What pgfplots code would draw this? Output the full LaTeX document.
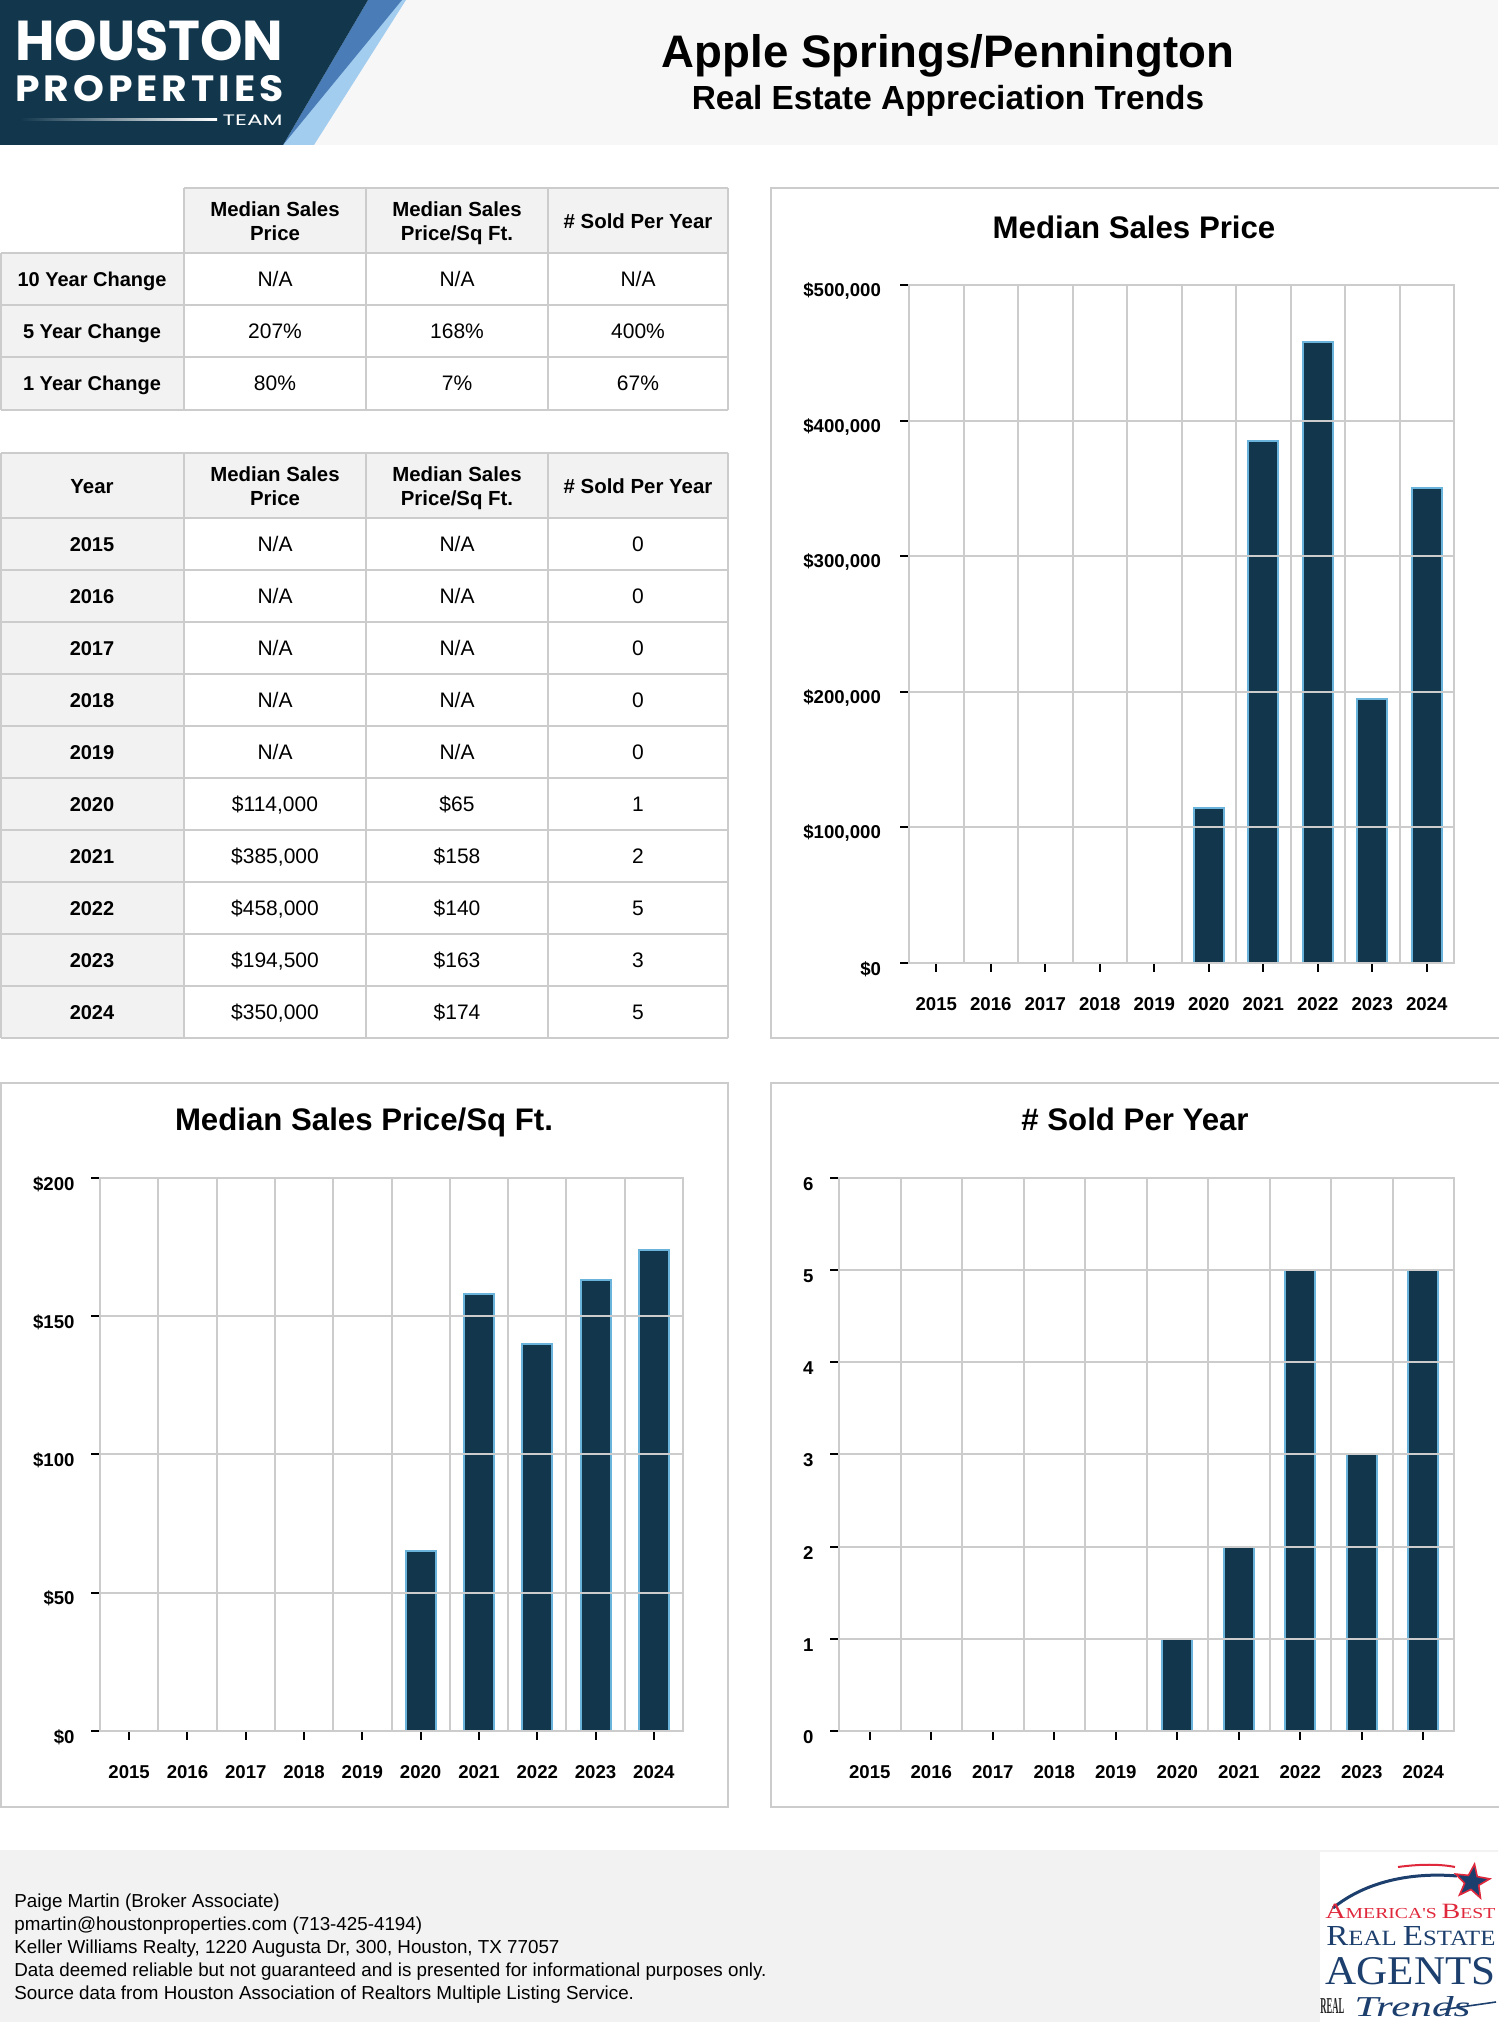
\documentclass[border=0pt]{standalone}
\usepackage{fontspec}
\setmainfont{Liberation Sans}
\newfontfamily\logofont{Poppins}
\newfontfamily\logospaced[LetterSpace=10]{Poppins}
\newfontfamily\seriflogo{Liberation Serif}
\usepackage{graphicx}
\usepackage{pgfplots}
\pgfplotsset{compat=1.18}
\usetikzlibrary{shapes.geometric}

\definecolor{barnavy}{HTML}{12374D}
\definecolor{baredge}{HTML}{6AB4DC}
\definecolor{gridgray}{HTML}{CCCCCC}
\definecolor{headbg}{HTML}{F7F7F7}
\definecolor{cellgray}{HTML}{F2F2F2}
\definecolor{footbg}{HTML}{F2F2F2}
\definecolor{logodark}{HTML}{12374D}
\definecolor{logomid}{HTML}{4A7DB8}
\definecolor{logolight}{HTML}{A3CDEF}
\definecolor{logored}{HTML}{E0283C}
\definecolor{logonavy}{HTML}{1C3F6E}

\newcommand\NA{N/A}

\pgfplotsset{
  trendbar/.style={
    scale only axis, axis on top,
    ybar, bar width=15pt,
    xmin=-0.5, xmax=9.5, ymin=0,
    scaled y ticks=false,
    xtick={0,...,9},
    xticklabels={2015,2016,2017,2018,2019,2020,2021,2022,2023,2024},
    minor xtick={-0.5,0.5,...,9.5},
    xminorgrids=true, ymajorgrids=true, xmajorgrids=false,
    grid style={draw=gridgray, line width=1pt},
    minor grid style={draw=gridgray, line width=1pt},
    axis line style={draw=gridgray, line width=1pt},
    major tick style={black, line width=1pt},
    minor tick length=0pt,
    major tick length=4.5pt,
    tick align=outside,
    tick pos=left,
    every tick label/.append style={font=\fontsize{9.3}{11}\selectfont\bfseries},
    xticklabel shift=9pt,
    yticklabel style={yshift=-3pt},
  },
  bars/.style={fill=barnavy, draw=baredge, line width=1pt},
}

\tikzset{
  hd/.style={font=\fontsize{10.2}{12}\selectfont\bfseries, text height=7.3pt, text depth=0pt, inner sep=0pt},
  rl/.style={font=\fontsize{10}{12}\selectfont\bfseries, text height=7.2pt, text depth=0pt, inner sep=0pt},
  dc/.style={font=\fontsize{10.5}{12}\selectfont, text height=7.5pt, text depth=0pt, inner sep=0pt},
  ttl/.style={font=\fontsize{15.6}{18}\selectfont\bfseries, text height=11.2pt, text depth=0pt, inner sep=0pt},
  ft/.style={font=\fontsize{9.4}{11}\selectfont, anchor=base west, inner sep=0pt},
}

\begin{document}
\begin{tikzpicture}[x=0.5pt,y=0.5pt]
\useasboundingbox (0,0) rectangle (1498,2022);
\fill[white] (0,0) rectangle (1498,2022);

% ---- header band and logo
\fill[headbg] (0,1877) rectangle (1498,2022);
\fill[logolight] (395,2022) -- (406,2022) -- (314,1877) -- (281,1877) -- cycle;
\fill[logomid] (368,2022) -- (402,2022) -- (283,1877) -- cycle;
\fill[logodark] (0,2022) -- (368,2022) -- (283,1877) -- (0,1877) -- cycle;
\node[anchor=base west, inner sep=0pt, text=white] at (15,1961)
  {\resizebox{134pt}{20pt}{\logofont\bfseries HOUSTON}};
\node[anchor=base west, inner sep=0pt, text=white] at (15,1920)
  {\resizebox{134pt}{13pt}{\logospaced\bfseries PROPERTIES}};
\node[anchor=base east, inner sep=0pt, text=white] at (283,1896)
  {\resizebox{30pt}{5.3pt}{\logofont TEAM}};
\shade[left color=logodark, right color=white] (20,1901) rectangle (217,1903);

\node[font=\fontsize{22.8}{26}\selectfont\bfseries, inner sep=0pt] at (948,1966) {Apple Springs/Pennington};
\node[font=\fontsize{16.7}{19}\selectfont\bfseries, inner sep=0pt] at (948,1921) {Real Estate Appreciation Trends};

% ---- table 1: changes
\fill[cellgray] (184,1769) rectangle (728,1834);
\fill[cellgray] (1,1612) rectangle (184,1769);
\begin{scope}[gridgray, line width=1pt]
  \draw (184,1834) -- (728,1834);
  \foreach \y in {1769,1717,1665,1612} \draw (1,\y) -- (728,\y);
  \draw (1,1769) -- (1,1612);
  \foreach \x in {184,366,548,728} \draw (\x,1834) -- (\x,1612);
\end{scope}
\node[hd] at (275,1813) {Median Sales};
\node[hd] at (275,1789) {Price};
\node[hd] at (457,1813) {Median Sales};
\node[hd] at (457,1789) {Price/Sq Ft.};
\node[hd] at (638,1801) {\# Sold Per Year};
\foreach \lab/\a/\b/\c [count=\i from 0] in
  {10 Year Change/\NA/\NA/\NA, 5 Year Change/207\%/168\%/400\%, 1 Year Change/80\%/7\%/67\%}{
  \node[rl] at (92,{1743-52*\i}) {\lab};
  \node[dc] at (275,{1743-52*\i}) {\a};
  \node[dc] at (457,{1743-52*\i}) {\b};
  \node[dc] at (638,{1743-52*\i}) {\c};
}

% ---- table 2: by year
\fill[cellgray] (1,1504) rectangle (728,1569);
\fill[cellgray] (1,984) rectangle (184,1504);
\begin{scope}[gridgray, line width=1pt]
  \draw (1,1569) -- (728,1569);
  \foreach \y in {1504,1452,...,984} \draw (1,\y) -- (728,\y);
  \foreach \x in {1,184,366,548,728} \draw (\x,1569) -- (\x,984);
\end{scope}
\node[hd] at (92,1536) {Year};
\node[hd] at (275,1548) {Median Sales};
\node[hd] at (275,1524) {Price};
\node[hd] at (457,1548) {Median Sales};
\node[hd] at (457,1524) {Price/Sq Ft.};
\node[hd] at (638,1536) {\# Sold Per Year};
\foreach \yr/\p/\s/\n [count=\i from 0] in
  {2015/\NA/\NA/0, 2016/\NA/\NA/0, 2017/\NA/\NA/0, 2018/\NA/\NA/0, 2019/\NA/\NA/0,
   2020/{\$114,000}/\$65/1, 2021/{\$385,000}/\$158/2, 2022/{\$458,000}/\$140/5,
   2023/{\$194,500}/\$163/3, 2024/{\$350,000}/\$174/5}{
  \node[rl] at (92,{1478-52*\i}) {\yr};
  \node[dc] at (275,{1478-52*\i}) {\p};
  \node[dc] at (457,{1478-52*\i}) {\s};
  \node[dc] at (638,{1478-52*\i}) {\n};
}

% ---- chart frames and titles
\begin{scope}[gridgray, line width=1pt]
  \draw (771,984) rectangle (1502,1834);
  \draw (1,215) rectangle (728,939);
  \draw (771,215) rectangle (1502,939);
\end{scope}
\node[ttl] at (1134,1795) {Median Sales Price};
\node[ttl] at (364,903) {Median Sales Price/Sq Ft.};
\node[ttl] at (1135,903) {\# Sold Per Year};

% ---- chart 1: median sales price
\begin{axis}[trendbar, at={(454.5pt,529.5pt)}, anchor=south west,
    width=272.5pt, height=339pt, ymax=500000,
    ytick={0,100000,200000,300000,400000,500000},
    yticklabels={\$0,{\$100,000},{\$200,000},{\$300,000},{\$400,000},{\$500,000}},
    yticklabel shift=6pt]
  \addplot[bars] coordinates {(5,114000) (6,385000) (7,458000) (8,194500) (9,350000)};
\end{axis}

% ---- chart 2: median price per sq ft
\begin{axis}[trendbar, at={(50pt,145.5pt)}, anchor=south west,
    width=291.5pt, height=276.5pt, ymax=200,
    ytick={0,50,100,150,200},
    yticklabels={\$0,\$50,\$100,\$150,\$200},
    yticklabel shift=4.7pt]
  \addplot[bars] coordinates {(5,65) (6,158) (7,140) (8,163) (9,174)};
\end{axis}

% ---- chart 3: number sold
\begin{axis}[trendbar, at={(419.5pt,145.5pt)}, anchor=south west,
    width=307.5pt, height=276.5pt, ymax=6,
    ytick={0,1,2,3,4,5,6},
    yticklabels={0,1,2,3,4,5,6},
    yticklabel shift=4.7pt]
  \addplot[bars] coordinates {(5,1) (6,2) (7,5) (8,3) (9,5)};
\end{axis}

% ---- footer
\fill[footbg] (0,0) rectangle (1498,172);
\node[ft] at (14,114) {Paige Martin (Broker Associate)};
\node[ft] at (14,91) {pmartin@houstonproperties.com (713-425-4194)};
\node[ft] at (14,68) {Keller Williams Realty, 1220 Augusta Dr, 300, Houston, TX 77057};
\node[ft] at (14,45) {Data deemed reliable but not guaranteed and is presented for informational purposes only.};
\node[ft] at (14,22) {Source data from Houston Association of Realtors Multiple Listing Service.};

\fill[white] (1320,0) rectangle (1498,170);
\draw[logonavy, line width=1.5pt] (1333,114) .. controls (1365,140) and (1410,150) .. (1457,146);
\draw[logored, line width=1pt] (1398,155) .. controls (1420,158) and (1440,158) .. (1455,155);
\node[star, star points=5, star point ratio=2.4, fill=logonavy, draw=logored, line width=0.8pt,
  minimum size=18pt, inner sep=0pt, rotate=-8] at (1472,140) {};
\node[anchor=base west, inner sep=0pt, text=logored] at (1325,103)
  {\resizebox{85pt}{7.2pt}{\seriflogo A\fontsize{7}{8}\selectfont MERICA'S \normalsize B\fontsize{7}{8}\selectfont EST}};
\node[anchor=base west, inner sep=0pt, text=logonavy] at (1326,76)
  {\resizebox{84.5pt}{9.5pt}{\seriflogo R\fontsize{7.5}{8}\selectfont EAL \normalsize E\fontsize{7.5}{8}\selectfont STATE}};
\node[anchor=base west, inner sep=0pt, text=logonavy] at (1325,38)
  {\resizebox{85pt}{13.5pt}{\seriflogo AGENTS}};
\node[anchor=base west, inner sep=0pt, text=black!85] at (1320,8)
  {\resizebox{12pt}{7.5pt}{\seriflogo\bfseries REAL}};
\node[anchor=base west, inner sep=0pt, text=logonavy] at (1354,5)
  {\resizebox{58pt}{10pt}{\seriflogo\itshape Trends}};
\draw[logonavy, line width=0.8pt] (1440,12) -- (1496,20);
\end{tikzpicture}
\end{document}
